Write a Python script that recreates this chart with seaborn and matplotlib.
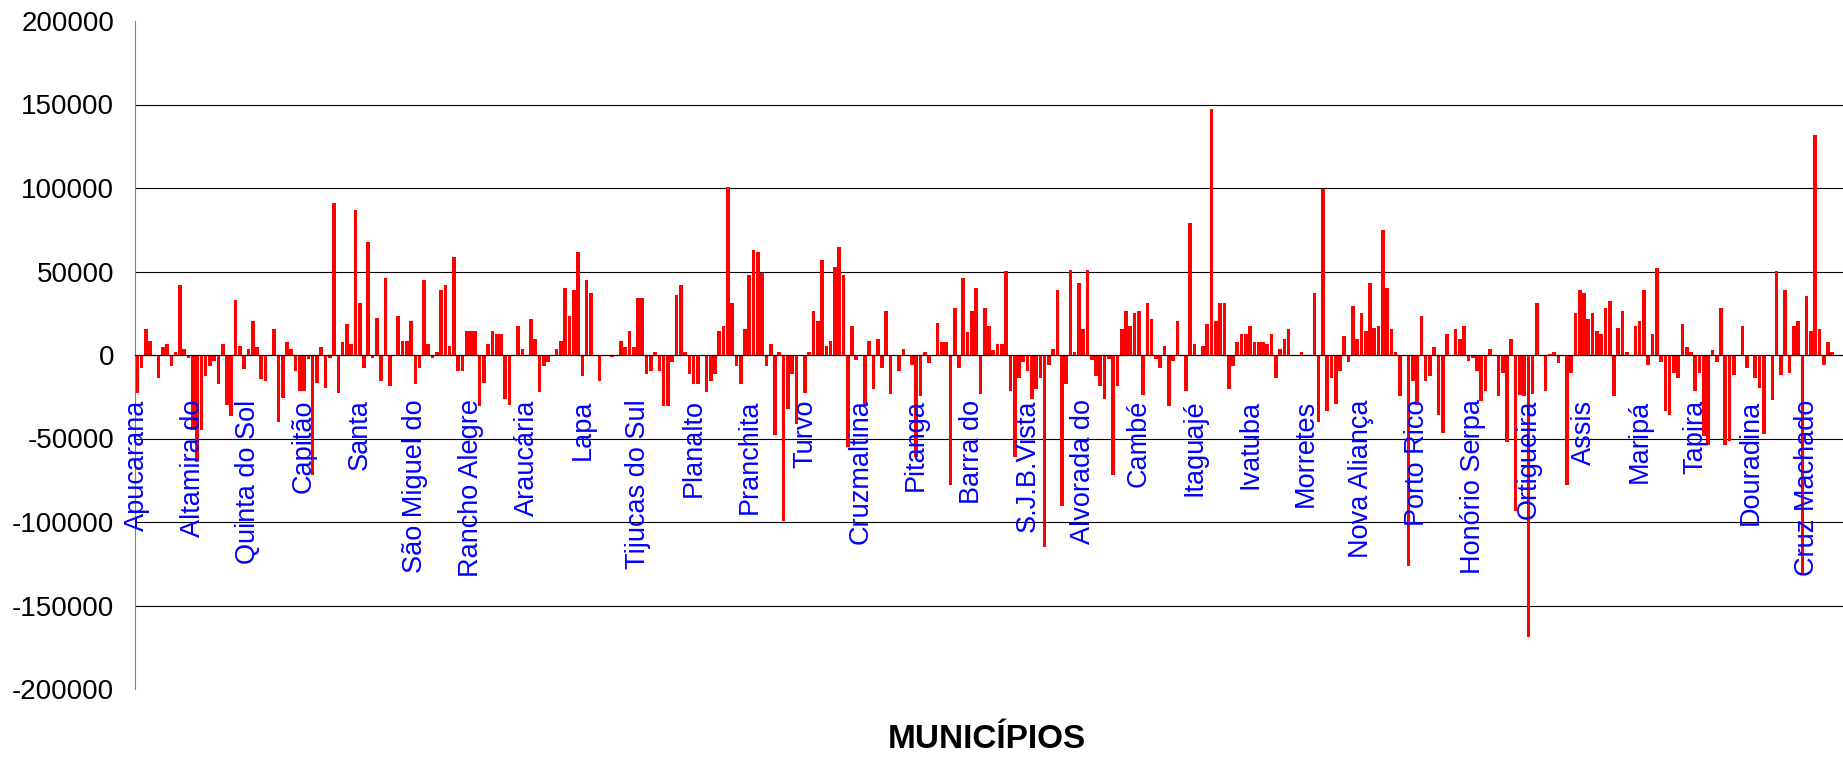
import matplotlib
matplotlib.use("Agg")
import matplotlib.pyplot as plt
import seaborn as sns
import numpy as np
import pandas as pd

# saldo por municipio, na ordem do eixo (uma linha = um bloco de 13)
saldo = [
    -23000, -8000, 15800, 8100, 0, -14000, 5000, 6700, -6500, 2000, 42000, 3600, -2000,
    -45000, -64000, -45000, -12500, -6500, -3400, -17600, 6700, -29700, -36800, 33000, 5300, -8100,
    3600, 20400, 5000, -14100, -15500, 0, 15800, -40000, -26000, 8000, 3600, -9500, -21600,
    -21600, -2400, -72000, -17000, 5000, -20000, -2000, 91000, -23000, 8000, 18700, 6700, 87000,
    31000, -7900, 67600, -1500, 22000, -15500, 46000, -18600, 0, 23400, 8300, 8300, 20400,
    -17200, -7900, 45000, 6700, -2000, 2000, 39000, 42000, 5300, 58800, -9500, -9500, 14300,
    14300, 14300, -30700, -17000, 6700, 14300, 12700, 12700, -26600, -29700, 0, 17400, 3600,
    0, 21600, 9700, -22000, -6500, -4400, 0, 3600, 8100, 40400, 23400, 39000, 61800,
    -12500, 45000, 37400, 0, -15500, 0, 0, -1000, 0, 8100, 5000, 14300, 5000,
    34300, 34300, -11100, -9500, 2000, -9500, -30700, -30700, -4400, 36000, 42000, 2000, -11100,
    -17200, -17200, 0, -22000, -15500, -11100, 14300, 17400, 100800, 31300, -6500, -17200, 15800,
    48000, 62900, 61600, 49400, -6500, 6500, -47700, 2000, -99700, -32500, -11100, -41300, 0,
    -23000, 2000, 26500, 20600, 57000, 5200, 8200, 52600, 64400, 47900, -55000, 17200, -2800,
    0, -30000, 8100, -20100, 9700, -7700, 26400, -23200, 0, -9400, 3400, 0, -6200,
    -61000, -24700, 2000, -4900, 0, 18900, 8000, 8000, -78000, 28000, -7500, 46200, 14000,
    26400, 40200, -23200, 28000, 17200, 3200, 6400, 6400, 50500, -21500, -61300, -14000, -4000,
    -9300, -26300, -20300, -14000, -114800, -6200, 3400, 38800, -90600, -17200, 50800, 2000, 43400,
    15700, 50800, -3100, -12400, -18400, -26300, -2300, -71800, -18600, 15700, 26400, 17300, 25200,
    26400, -24200, 31200, 21700, -2400, -7700, 5200, -30700, -3300, 20400, 0, -21500, 79000,
    6800, 0, 5200, 18800, 147600, 20400, 31200, 31200, -20300, -6400, 8000, 12800, 12800,
    17300, 8000, 8000, 8000, 6500, 12800, -14000, 3400, 9700, 15700, 0, 0, 2000,
    0, 0, 37300, -40000, 99200, -33700, -14000, -29400, -9600, 11200, -4300, 29400, 9700,
    25200, 14200, 43400, 16000, 17300, 74700, 40300, 15700, 2000, -24400, 0, -126400, -15500,
    -30000, 23200, -15500, -12500, 5000, -35800, -46500, 12700, 0, 15800, 9700, 17400, -3400,
    -2000, -9500, -27700, -21600, 3400, 0, -24400, -10900, -52000, 9700, -93500, -24000, -24400,
    -169000, -23600, 31200, 0, -21500, 700, 2000, -4600, 0, -78100, -10700, 25200, 38800,
    37300, 21700, 25200, 14300, 12800, 28000, 32500, -24400, 16000, 26400, 2000, 0, 17300,
    20400, 38800, -6000, 12500, 52000, -4300, -33500, -35900, -10700, -14000, 18700, 4900, 2000,
    -21500, -10700, -48400, -53800, 3200, -4300, 28000, -53800, -51600, -11800, 0, 17200, -7500,
    0, -14000, -20000, -47300, 0, -26900, 50500, -11800, 38700, -10700, 17200, 20400, -131000,
    35400, 14400, 131500, 15700, -6000, 8000, 2000, 0, 0,
]

# nomes que aparecem no eixo (um a cada 13 municipios)
rotulos = [
    "Apucarana", "Altamira do", "Quinta do Sol", "Capitão", "Santa",
    "São Miguel do", "Rancho Alegre", "Araucária", "Lapa", "Tijucas do Sul",
    "Planalto", "Pranchita", "Turvo", "Cruzmaltina", "Pitanga", "Barra do",
    "S.J.B.Vista", "Alvorada do", "Cambé", "Itaguajé", "Ivatuba", "Morretes",
    "Nova Aliança", "Porto Rico", "Honório Serpa", "Ortigueira", "Assis",
    "Maripá", "Tapira", "Douradina", "Cruz Machado",
]
passo = 13

y_ticks = [-200000, -150000, -100000, -50000, 0, 50000, 100000, 150000, 200000]

df = pd.DataFrame({"pos": np.arange(len(saldo)), "saldo": saldo})

sns.set_style("white")
plt.rcParams["font.family"] = ["Liberation Sans", "DejaVu Sans"]
plt.rcParams["text.color"] = "black"
plt.rcParams["xtick.color"] = "black"
plt.rcParams["ytick.color"] = "black"

fig = plt.figure(figsize=(18.43, 7.58), dpi=100)
ax = fig.add_axes([135 / 1843, 69 / 758, 1708 / 1843, 668 / 758])

sns.barplot(data=df, x="pos", y="saldo", color="#ff0000", saturation=1,
            width=0.85, ax=ax, linewidth=0)

n = len(saldo)
ax.set_xlim(-0.5, n - 0.5)
ax.set_ylim(-200000, 200000)

# eixo das categorias cruzando no zero
for s in ["top", "right"]:
    ax.spines[s].set_visible(False)
ax.spines["bottom"].set_position(("data", 0))
ax.spines["bottom"].set_color("black")
ax.spines["bottom"].set_linewidth(0.8)
ax.spines["left"].set_color("#808080")
ax.spines["left"].set_linewidth(0.8)

ax.set_xticks(np.arange(0, n, passo))
ax.set_xticklabels(rotulos, rotation=90, color="#0000ff", fontsize=19.5)
ax.tick_params(axis="x", which="major", length=0, pad=32)
ax.set_xticks(np.arange(-0.5, n, 1), minor=True)
ax.tick_params(axis="x", which="minor", length=6, width=0.8,
               color="black", direction="out")

ax.set_yticks(y_ticks)
ax.set_yticklabels([str(v) for v in y_ticks], fontsize=20, color="black")
ax.tick_params(axis="y", length=6, width=0.8, color="#808080", pad=9)

ax.yaxis.grid(True, color="black", linewidth=0.8)
for gl, v in zip(ax.get_ygridlines(), y_ticks):
    if abs(v) == 200000:
        gl.set_visible(False)
ax.yaxis.set_zorder(0.5)
ax.xaxis.set_zorder(3)

ax.set_xlabel("")
ax.set_ylabel("")
fig.text(987 / 1843, 1 - 740 / 758, "MUNICÍPIOS", ha="center", va="center",
         fontsize=24, fontweight="bold", color="black")

fig.savefig("out.png", dpi=100)
